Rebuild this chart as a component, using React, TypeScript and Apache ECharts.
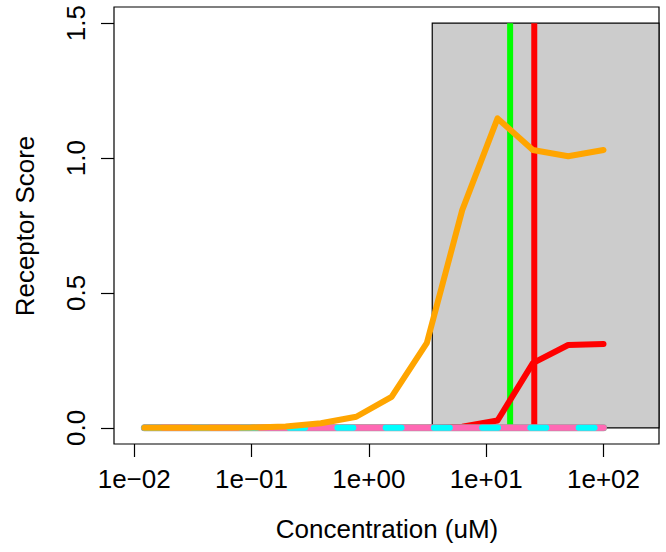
import React, { useEffect, useRef } from "react";
import * as echarts from "echarts";

// Concentrations (uM), ascending
const concentrations = [
  0.01220703125, 0.0244140625, 0.048828125, 0.09765625, 0.1953125, 0.390625,
  0.78125, 1.5625, 3.125, 6.25, 12.5, 25, 50, 100,
];
const orangeScores = [0, 0, 0, 0.001, 0.005, 0.017, 0.041, 0.115, 0.315, 0.807, 1.147, 1.03, 1.007, 1.03];
const redScores = [0, 0, 0, 0, 0, 0, 0, 0, 0, 0.004, 0.027, 0.24, 0.307, 0.311];
const pinkScores = [0, 0, 0, 0, 0, 0, 0, 0, 0, 0, 0, 0, 0, 0];
const cyanScores = [0, 0, 0, 0, 0, 0, 0, 0, 0, 0, 0, 0, 0, 0];

const greenEC50 = 16.0;
const redEC50 = 25.7;
const shadeStart = 3.47;
const yTop = 1.5;

const xTickExponents = [-2, -1, 0, 1, 2];
const yTicks = [0, 0.5, 1.0, 1.5];

const xMin = -2.172;
const xMax = 2.473;
const yMin = -0.06;
const yMax = 1.56;

const FONT = "'Liberation Sans', Arial, Helvetica, sans-serif";

const toPts = (ys: number[]) => concentrations.map((c, i) => [Math.log10(c), ys[i]]);

export default function App() {
  const ref = useRef<HTMLDivElement>(null);
  useEffect(() => {
    if (!ref.current) return;
    const chart = echarts.init(ref.current, null, { renderer: "svg" });
    const lineBase = (name: string, data: number[][], color: string, width: number, z: number, extra: any = {}) => ({
      type: "line",
      name,
      data,
      showSymbol: false,
      symbol: "none",
      silent: true,
      z,
      lineStyle: { color, width, cap: "round", join: "round", ...extra },
    });
    chart.setOption({
      animation: false,
      grid: {
        left: 114,
        right: 7,
        top: 7,
        bottom: 108,
        show: true,
        borderColor: "#000",
        borderWidth: 1.2,
        backgroundColor: "transparent",
      },
      xAxis: {
        type: "value",
        min: xMin,
        max: xMax,
        position: "bottom",
        axisLine: { show: false, onZero: false },
        splitLine: { show: false },
        axisTick: {
          show: true,
          inside: false,
          customValues: xTickExponents,
          length: 13,
          lineStyle: { color: "#000", width: 1.2 },
        },
        axisLabel: {
          customValues: xTickExponents,
          margin: 22,
          fontSize: 26,
          fontFamily: FONT,
          color: "#000",
          formatter: (v: number) => {
            const e = Math.round(v);
            const s = String(Math.abs(e)).padStart(2, "0");
            return "1e" + (e < 0 ? "\u2212" : "+") + s;
          },
        },
      },
      yAxis: {
        type: "value",
        min: yMin,
        max: yMax,
        position: "left",
        axisLine: { show: false, onZero: false },
        splitLine: { show: false },
        axisTick: {
          show: true,
          inside: false,
          customValues: yTicks,
          length: 13,
          lineStyle: { color: "#000", width: 1.2 },
        },
        axisLabel: {
          customValues: yTicks,
          rotate: 90,
          margin: 25,
          fontSize: 26,
          fontFamily: FONT,
          color: "#000",
          formatter: (v: number) => v.toFixed(1),
        },
      },
      graphic: [
        {
          type: "text",
          x: 387,
          y: 529,
          style: {
            text: "Concentration (uM)",
            font: `26px ${FONT}`,
            fill: "#000",
            textAlign: "center",
            textVerticalAlign: "middle",
          },
        },
        {
          type: "text",
          x: 25,
          y: 226,
          rotation: Math.PI / 2,
          style: {
            text: "Receptor Score",
            font: `26px ${FONT}`,
            fill: "#000",
            textAlign: "center",
            textVerticalAlign: "middle",
          },
        },
      ],
      series: [
        {
          type: "line",
          data: [],
          z: 1,
          silent: true,
          markArea: {
            silent: true,
            itemStyle: { color: "#CCCCCC", borderColor: "#000", borderWidth: 1.2 },
            data: [
              [
                { coord: [Math.log10(shadeStart), 0] },
                { coord: [xMax, yTop] },
              ],
            ],
          },
        },
        lineBase("green", [[Math.log10(greenEC50), 0], [Math.log10(greenEC50), yTop]], "#00FF00", 6, 2, { cap: "butt" }),
        lineBase("redline", [[Math.log10(redEC50), 0], [Math.log10(redEC50), yTop]], "#FF0000", 6, 3, { cap: "butt" }),
        lineBase("red", toPts(redScores), "#FF0000", 6, 4),
        lineBase("pinkOutline", toPts(pinkScores), "#9a9a9a", 7, 5),
        lineBase("pink", toPts(pinkScores), "#FF69B4", 6, 6),
        lineBase("cyan", toPts(cyanScores), "#00FFFF", 6, 7, { type: [16, 32.25] }),
        lineBase("orange", toPts(orangeScores), "#FFA500", 6, 8),
      ],
    });
    return () => chart.dispose();
  }, []);
  return (
    <div
      ref={ref}
      style={{ position: "absolute", left: 0, top: 0, width: 666, height: 552, background: "#fff" }}
    />
  );
}
